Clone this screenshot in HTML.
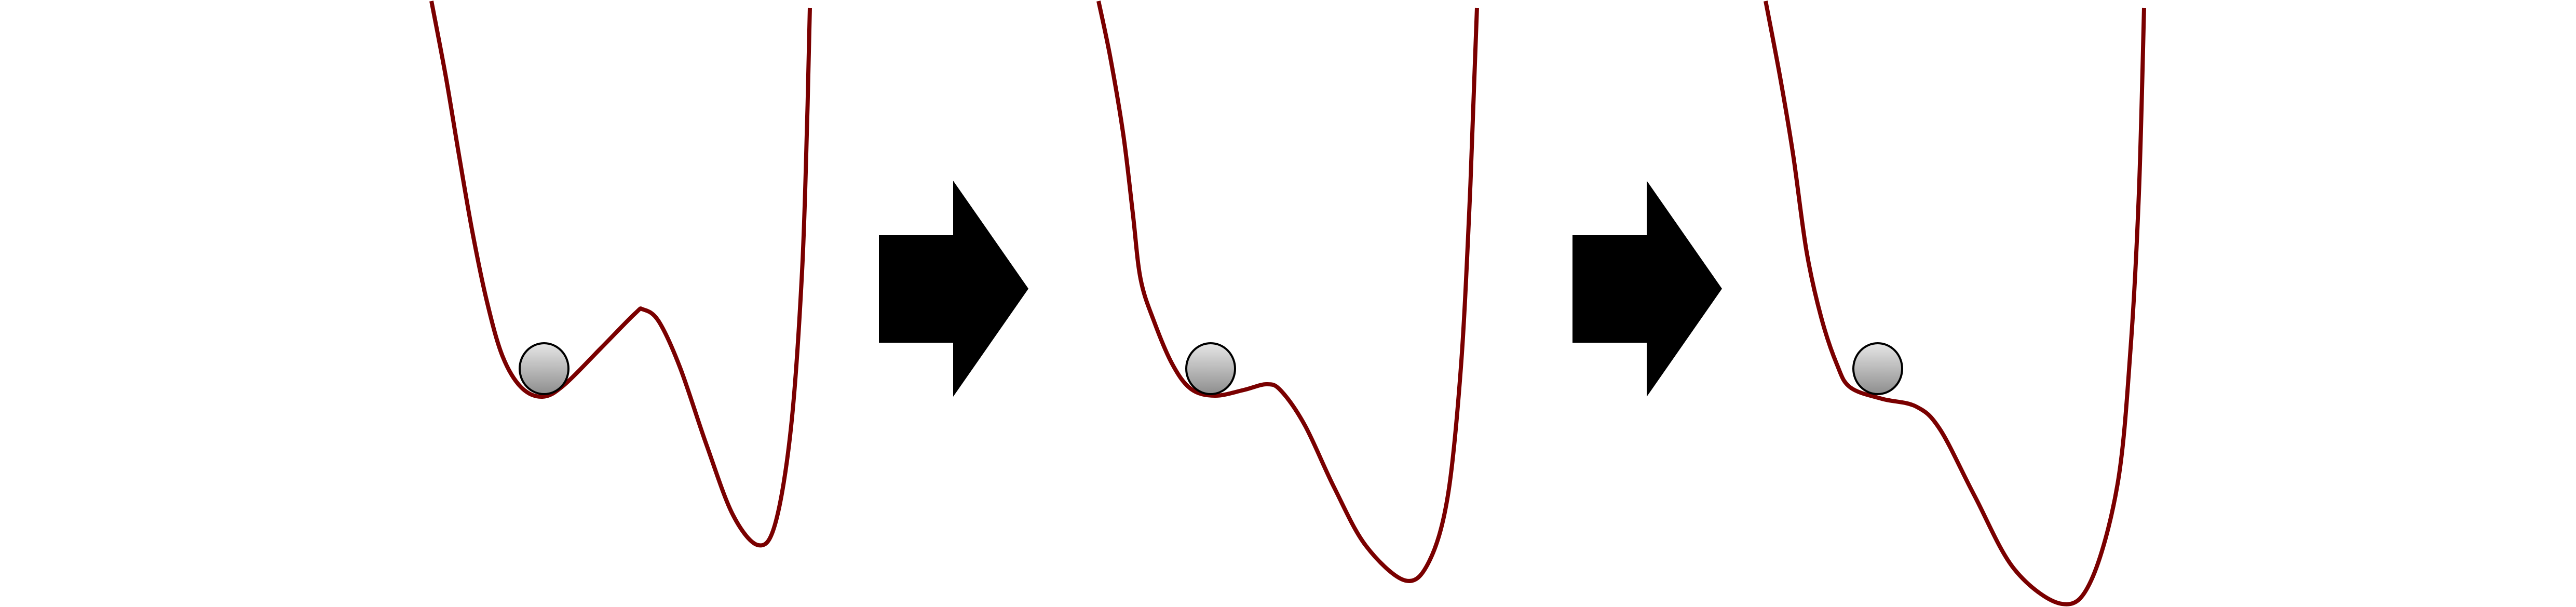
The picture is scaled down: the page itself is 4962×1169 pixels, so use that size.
<!DOCTYPE html>
<html><head><meta charset="utf-8"><style>html,body{margin:0;padding:0;background:#fff}svg{display:block}</style></head>
<body>
<svg width="4962" height="1169" viewBox="0 0 4962 1169">
<defs><linearGradient id="g" x1="0" y1="0" x2="0" y2="1"><stop offset="0" stop-color="#e6e6e6"/><stop offset="1" stop-color="#8e8e8e"/></linearGradient></defs>
<g id="root"></g>
</svg>
<script>
const panel1X=[831,859,884,910,938,968,1004,1045,1086,1157,1223,1239,1269,1310,1361,1412,1461,1494,1524,1545,1555,1560];
const panel1Y=[2,149,298,447,581,686,746,764,742,671,604,596,619,708,857,992,1050,1006,820,522,224,15];
const panel2X=[2116,2139,2164,2182,2197,2223,2258,2294,2340,2396,2440,2468,2514,2570,2631,2707,2753,2789,2814,2830,2840,2845];
const panel2Y=[2,112,261,410,537,619,701,749,762,751,740,753,820,939,1051,1118,1081,954,708,410,149,15];
const panel3X=[3401,3429,3454,3480,3508,3538,3564,3625,3691,3737,3803,3880,3972,4028,4079,4104,4120,4130];
const panel3Y=[2,149,298,485,611,701,746,768,783,827,954,1096,1163,1118,932,671,373,15];
const ballX=[1048,2332,3617];
const ballY=[710,710,710];
const arrowX=[1693,3029];
const root=document.getElementById('root');
const NS='http://www.w3.org/2000/svg';
function crPath(xs,ys){let d='M'+xs[0]+','+ys[0];for(let i=0;i<xs.length-1;i++){const x0=xs[Math.max(i-1,0)],y0=ys[Math.max(i-1,0)],x1=xs[i],y1=ys[i],x2=xs[i+1],y2=ys[i+1],x3=xs[Math.min(i+2,xs.length-1)],y3=ys[Math.min(i+2,xs.length-1)];d+=' C'+(x1+(x2-x0)/6)+','+(y1+(y2-y0)/6)+' '+(x2-(x3-x1)/6)+','+(y2-(y3-y1)/6)+' '+x2+','+y2;}return d;}
[[panel1X,panel1Y],[panel2X,panel2Y],[panel3X,panel3Y]].forEach((p,i)=>{
const el=document.createElementNS(NS,'path');
el.setAttribute('d',crPath(p[0],p[1]));el.setAttribute('fill','none');el.setAttribute('stroke','#7a0000');el.setAttribute('stroke-width','8');


root.appendChild(el);});
ballX.forEach((x,i)=>{
const c=document.createElementNS(NS,'ellipse');
c.setAttribute('cx',x);c.setAttribute('cy',ballY[i]);c.setAttribute('rx',47);c.setAttribute('ry',49);c.setAttribute('fill','url(#g)');c.setAttribute('stroke','#000');c.setAttribute('stroke-width','4');


root.appendChild(c);});
arrowX.forEach((x,i)=>{
const a=document.createElementNS(NS,'polygon');
a.setAttribute('points',[[x,453],[x+143,453],[x+143,348],[x+288,556],[x+143,764],[x+143,660],[x,660]].map(q=>q.join(',')).join(' '));a.setAttribute('fill','#000');


root.appendChild(a);});
</script>
</body></html>
